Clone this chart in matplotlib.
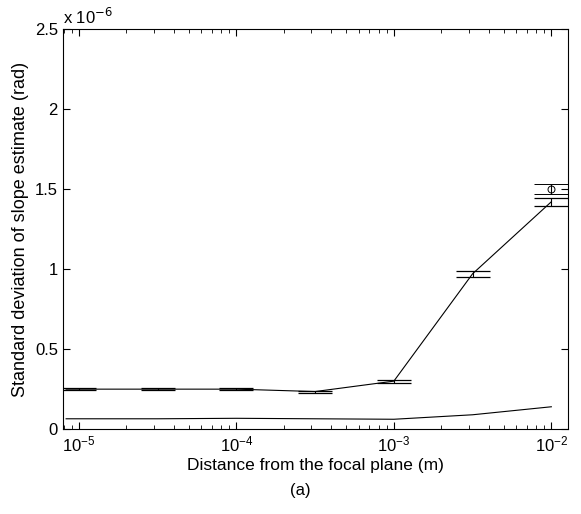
import matplotlib.pyplot as plt
from matplotlib.ticker import FuncFormatter, LogLocator

plt.rcParams['font.family'] = ['Liberation Sans', 'DejaVu Sans']
plt.rcParams['font.size'] = 12

# distance from the focal plane (m)
dist = [8.3e-6, 1e-5, 3.16e-5, 1e-4, 3.16e-4, 1e-3, 3.16e-3, 1e-2]
# std of slope estimate, units of 1e-6 rad
upper = [0.25, 0.25, 0.25, 0.25, 0.235, 0.30, 0.97, 1.42]
upper_err = [0.0, 0.006, 0.006, 0.006, 0.006, 0.01, 0.02, 0.025]
lower = [0.065, 0.065, 0.065, 0.068, 0.065, 0.062, 0.09, 0.14]
# extra estimate drawn as a circle at the last distance
circ_x = [1e-2]
circ_y = [1.50]
circ_err = [0.03]

fig = plt.figure(figsize=(5.81, 5.14), dpi=100)
ax = fig.add_axes([0.108, 0.165, 0.870, 0.779])

ax.plot(dist, upper, color='k', lw=0.8)
ax.errorbar(dist[1:], upper[1:], yerr=upper_err[1:], fmt='none', ecolor='k',
            capsize=12, capthick=0.9, elinewidth=0.8)
ax.errorbar(circ_x, circ_y, yerr=circ_err, fmt='o', color='k', mfc='none',
            ms=5, mew=0.7, capsize=12, capthick=0.9, elinewidth=0.8)
ax.plot(dist, lower, color='k', lw=0.8)

ax.set_xscale('log')
ax.set_xlim(7.9e-6, 1.28e-2)
ax.set_ylim(0, 2.5)
ax.set_yticks([0, 0.5, 1, 1.5, 2, 2.5])
ax.yaxis.set_major_formatter(FuncFormatter(lambda v, p: '%g' % v))
ax.xaxis.set_minor_locator(LogLocator(base=10, subs=range(2, 10)))
ax.tick_params(which='both', direction='in', top=True, right=True)
ax.tick_params(which='major', length=5, labelsize=12)
ax.tick_params(which='minor', length=3)
for s in ax.spines.values():
    s.set_linewidth(0.8)

ax.text(0.0, 1.005, r'x 10$^{-6}$', transform=ax.transAxes, ha='left',
        va='bottom', fontsize=12)
ax.set_xlabel('Distance from the focal plane (m)', fontsize=12.5, labelpad=3)
ax.set_ylabel('Standard deviation of slope estimate (rad)', fontsize=13,
              labelpad=4)
fig.text(0.517, 0.045, '(a)', ha='center', va='center', fontsize=12)

fig.savefig('out.png', dpi=100)
